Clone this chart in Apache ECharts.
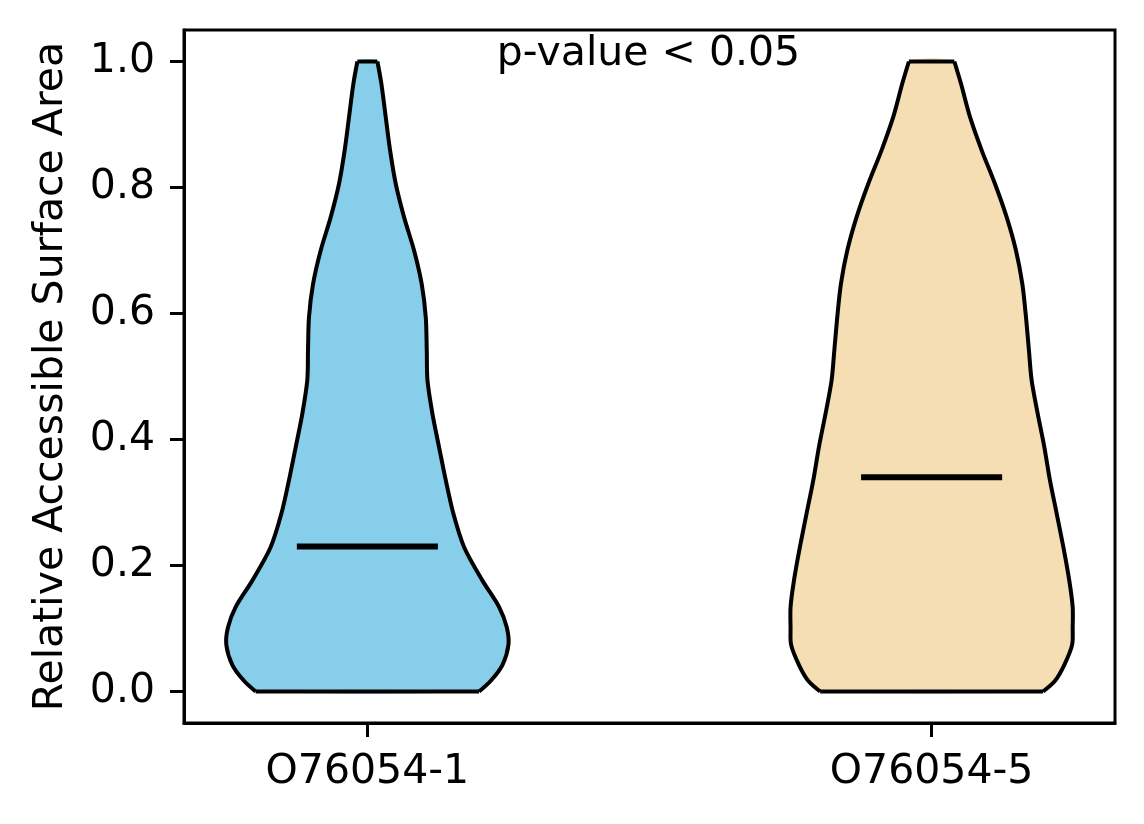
<!DOCTYPE html>
<html>
<head>
<meta charset="utf-8">
<script src="https://cdn.jsdelivr.net/npm/echarts@6/dist/echarts.min.js"></script>
<style>
  html, body { margin: 0; padding: 0; background: #fff; }
  #chart { width: 1144px; height: 824px; }
</style>
</head>
<body>
<div id="chart"></div>
<script>
const categories = ['O76054-1', 'O76054-5'];
const positions = [1, 2];
const medians = [0.23, 0.34];
const yTicks = [0, 0.2, 0.4, 0.6, 0.8, 1.0];

// heights along the violin (top to bottom) and the read-off relative widths
const levels = [1.0, 0.965, 0.912, 0.859, 0.806, 0.753, 0.70, 0.647, 0.594, 0.541,
  0.494, 0.441, 0.388, 0.335, 0.282, 0.229, 0.176, 0.134, 0.102, 0.074, 0.042, 0.017, 0];
const density1 = [0.071, 0.099, 0.13, 0.161, 0.201, 0.26, 0.331, 0.385, 0.414, 0.421,
  0.426, 0.461, 0.508, 0.556, 0.61, 0.686, 0.816, 0.934, 0.988, 1.0, 0.957, 0.875, 0.792];
const density2 = [0.161, 0.208, 0.272, 0.355, 0.449, 0.532, 0.598, 0.643, 0.669, 0.69,
  0.709, 0.752, 0.799, 0.839, 0.887, 0.934, 0.976, 1.0, 1.0, 0.996, 0.94, 0.875, 0.79];
const densities = [density1, density2];
const colors = ['#87CEEB', '#F5DEB3'];

const halfWidth = 0.25;   // widths=0.5
const medianHalf = 0.125;
const font = 'DejaVu Sans';
const edge = { stroke: '#000', lineWidth: 4, lineJoin: 'round', fill: null };

function renderViolin(params, api) {
  const i = params.dataIndex;
  const pos = api.value(0);
  const med = api.value(1);
  const dens = densities[i];
  const right = levels.map((v, k) => api.coord([pos + dens[k] * halfWidth, v]));
  const left = levels.map((v, k) => api.coord([pos - dens[k] * halfWidth, v]));
  const top = [left[0], right[0]];
  const n = levels.length - 1;
  const bottom = [left[n], right[n]];
  const a = api.coord([pos - medianHalf, med]);
  const b = api.coord([pos + medianHalf, med]);
  return {
    type: 'group',
    children: [
      {
        type: 'polygon',
        shape: { points: right.concat(left.slice().reverse()), smooth: 0.3 },
        style: { fill: colors[i], stroke: null }
      },
      { type: 'polyline', shape: { points: right, smooth: 0.3 }, style: edge },
      { type: 'polyline', shape: { points: left, smooth: 0.3 }, style: edge },
      { type: 'polyline', shape: { points: top }, style: edge },
      { type: 'polyline', shape: { points: bottom }, style: edge },
      {
        type: 'line',
        shape: { x1: a[0], y1: a[1], x2: b[0], y2: b[1] },
        style: { stroke: '#000', lineWidth: 6 }
      }
    ]
  };
}

const chart = echarts.init(document.getElementById('chart'));
chart.setOption({
  animation: false,
  backgroundColor: '#fff',
  grid: {
    left: 184, right: 29, top: 30, bottom: 101,
    show: true, borderColor: '#000', borderWidth: 3
  },
  xAxis: {
    type: 'value',
    min: 0.675,
    max: 2.325,
    splitLine: { show: false },
    axisLine: { show: true, onZero: false, lineStyle: { color: '#000', width: 3 } },
    axisTick: { show: true, customValues: positions, length: 14, lineStyle: { color: '#000', width: 3 } },
    axisLabel: {
      customValues: positions,
      margin: 29,
      color: '#000',
      fontFamily: font,
      fontSize: 41,
      formatter: v => categories[positions.indexOf(v)]
    }
  },
  yAxis: {
    type: 'value',
    min: -0.05,
    max: 1.05,
    name: 'Relative Accessible Surface Area',
    nameLocation: 'middle',
    nameRotate: 90,
    nameGap: 112,
    nameTextStyle: { color: '#000', fontFamily: font, fontSize: 41 },
    splitLine: { show: false },
    axisLine: { show: true, onZero: false, lineStyle: { color: '#000', width: 3 } },
    axisTick: { show: true, customValues: yTicks, length: 14, lineStyle: { color: '#000', width: 3 } },
    axisLabel: {
      customValues: yTicks,
      margin: 29,
      color: '#000',
      fontFamily: font,
      fontSize: 41,
      formatter: v => v.toFixed(1)
    }
  },
  graphic: [{
    type: 'text',
    x: 648.5,
    y: 54,
    style: {
      text: 'p-value < 0.05',
      fill: '#000',
      font: '41px "DejaVu Sans"',
      align: 'center',
      verticalAlign: 'middle'
    }
  }],
  series: [{
    type: 'custom',
    renderItem: renderViolin,
    clip: false,
    data: positions.map((p, i) => [p, medians[i]])
  }]
});
</script>
</body>
</html>
